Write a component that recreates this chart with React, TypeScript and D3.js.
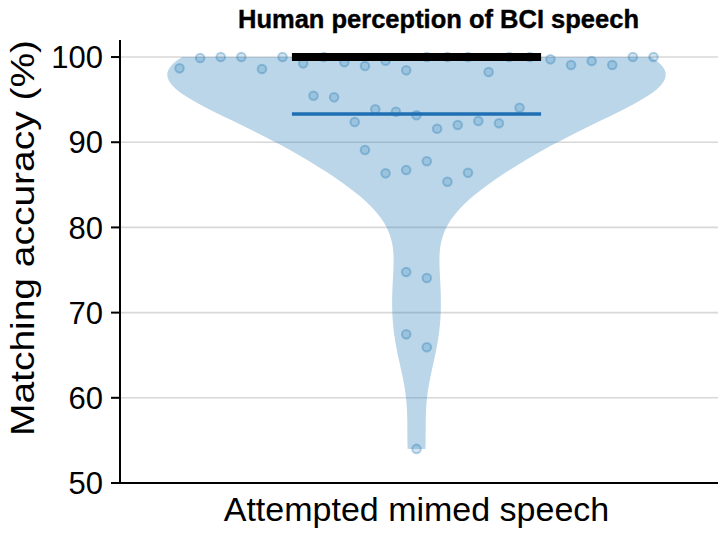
import React from 'react';
import * as d3 from 'd3';

// Values (matching accuracy, %), grouped by the horizontal rows of the strip
const rowTop = [98.67, 99.88, 100, 100, 98.6, 100, 99.26, 100, 99.38, 98.94, 99.56, 98.44, 100, 100, 100, 98.24, 100, 100, 99.73, 99.06, 99.53, 99.06, 100, 100];
const rowUpper = [95.46, 95.27, 92.37, 93.86, 93.58, 93.16, 91.58, 92.02, 92.49, 92.22, 94.05];
const rowMiddle = [89.08, 86.35, 86.74, 87.76, 85.36, 86.42];
const rowLow1 = [74.77, 74.06];
const rowLow2 = [67.45, 65.93];
const rowLowest = [54.0];
const rows = [rowTop, rowUpper, rowMiddle, rowLow1, rowLow2, rowLowest];

const meanValue = 93.3;
const topLineValue = 100;

const yTicks = [50, 60, 70, 80, 90, 100];
const gridTicks = [60, 70, 80, 90, 100];
const categoryLabel = 'Attempted mimed speech';
const titleText = 'Human perception of BCI speech';
const yLabelText = 'Matching accuracy (%)';

const FONT = "'Liberation Sans', Arial, Helvetica, sans-serif";

export default function App() {
  const W = 720, H = 533;
  const left = 120, right = 718, top = 40, bottom = 483;
  const y = d3.scaleLinear().domain([50, 102]).range([bottom, top]);
  const x = d3.scaleLinear().domain([-1.19, 1.21]).range([left, right]);

  const all = rows.flat();
  const n = all.length;
  const sd = d3.deviation(all) as number;
  const bw = Math.pow(n, -1 / 5) * sd;
  const lo = d3.min(all) as number, hi = d3.max(all) as number;
  const grid = d3.range(100).map(i => lo + (hi - lo) * i / 99);
  const dens = grid.map(v => d3.sum(all, xi => Math.exp(-0.5 * ((v - xi) / bw) ** 2)));
  const maxD = d3.max(dens) as number;
  const violinPts = grid.map((v, i) => ({ v, w: dens[i] / maxD }));
  const area = d3.area<{ v: number; w: number }>()
    .y(d => y(d.v))
    .x0(d => x(-d.w))
    .x1(d => x(d.w));

  const step = 0.0827;
  const points: { v: number; o: number }[] = [];
  rows.forEach(r => {
    r.forEach((v, i) => points.push({ v, o: (i - (r.length - 1) / 2) * step }));
  });

  return (
    <svg width={W} height={H} style={{ position: 'absolute', left: 0, top: 0, background: '#fff' }} fontFamily={FONT}>
      {gridTicks.map(t => (
        <line key={t} x1={left} x2={right} y1={y(t)} y2={y(t)} stroke="#d8d8d8" strokeWidth={1.6} />
      ))}
      <path d={area(violinPts) || ''} fill="#1f77b4" fillOpacity={0.3} />
      {points.map((p, i) => (
        <circle key={i} cx={x(p.o)} cy={y(p.v)} r={4.3} fill="#1f77b4" fillOpacity={0.2} stroke="#1f77b4" strokeOpacity={0.32} strokeWidth={2} />
      ))}
      <line x1={x(-0.5)} x2={x(0.5)} y1={y(topLineValue)} y2={y(topLineValue)} stroke="#000" strokeWidth={8} />
      <line x1={x(-0.5)} x2={x(0.5)} y1={y(meanValue)} y2={y(meanValue)} stroke="#1f6fb4" strokeWidth={3.5} />
      {/* axes */}
      <line x1={left} x2={left} y1={top} y2={bottom + 1} stroke="#000" strokeWidth={2} />
      <line x1={left - 1} x2={right} y1={bottom} y2={bottom} stroke="#000" strokeWidth={2} />
      {yTicks.map(t => (
        <g key={t}>
          <line x1={left - 9} x2={left} y1={y(t)} y2={y(t)} stroke="#000" strokeWidth={2} />
          <text x={left - 17} y={y(t)} dy="0.36em" textAnchor="end" fontSize={31} fill="#000">{t}</text>
        </g>
      ))}
      <text x={x(0)} y={521} textAnchor="middle" fontSize={34} fill="#000">{categoryLabel}</text>
      <text transform={`translate(34, 238) rotate(-90)`} textAnchor="middle" fontSize={34} fill="#000" textLength={396} lengthAdjust="spacingAndGlyphs">{yLabelText}</text>
      <text x={438.5} y={28} textAnchor="middle" fontSize={25.5} fontWeight="bold" fill="#000" stroke="#000" strokeWidth={0.4}>{titleText}</text>
    </svg>
  );
}
